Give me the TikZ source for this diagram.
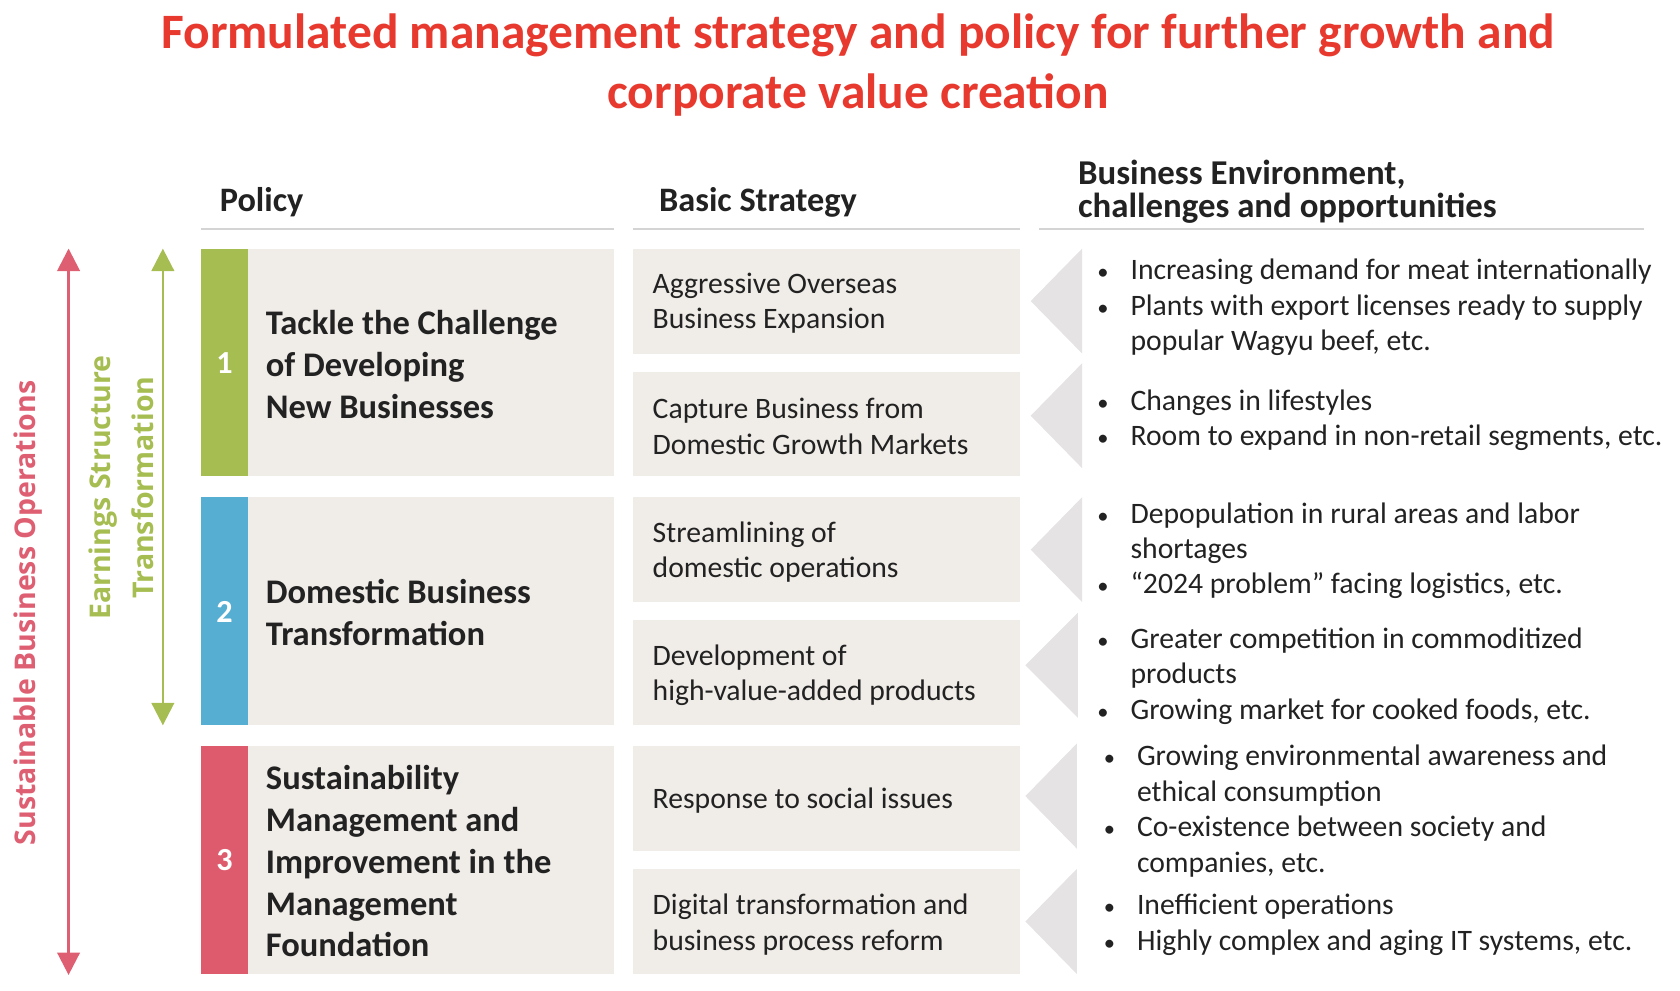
\documentclass[tikz,border=0pt]{standalone}
\usepackage{fontspec}
\setmainfont{Carlito}
\newfontfamily\vfont{Open Sans}
\usetikzlibrary{arrows.meta}
\definecolor{titlered}{HTML}{E8392F}
\definecolor{boxbg}{HTML}{F0ECE8}
\definecolor{trigray}{HTML}{E5E3E4}
\definecolor{greenA}{HTML}{A6BD52}
\definecolor{blueA}{HTML}{57AED3}
\definecolor{pinkA}{HTML}{DE5B6E}
\definecolor{arrowred}{HTML}{DF5F72}
\definecolor{txt}{HTML}{222222}
\definecolor{hline}{HTML}{D4D4D4}
\newcommand{\bul}{\makebox[31pt][l]{\fontsize{21}{21}\selectfont •}}
\newcommand{\ind}{\hspace*{31pt}}
\begin{document}
\begin{tikzpicture}[x=1pt,y=-1pt,
  title/.style={font=\fontsize{46.2}{56}\selectfont\bfseries, text=titlered, align=center, inner sep=0},
  head/.style={font=\fontsize{32}{30}\selectfont\bfseries, text=txt, align=left, inner sep=0, anchor=west},
  hrule/.style={draw=hline, line width=1.6pt},
  ptext/.style={font=\fontsize{32.2}{39}\selectfont\bfseries, text=txt, align=left, inner sep=0, anchor=west},
  numtext/.style={font=\fontsize{30}{36}\selectfont\bfseries, text=white, inner sep=0},
  stext/.style={font=\fontsize{27.7}{33}\selectfont, text=txt, align=left, inner sep=0, anchor=west},
  etext/.style={font=\fontsize{27.7}{33}\selectfont, text=txt, align=left, inner sep=0, anchor=west},
  vtext/.style={font={\vfont\bfseries\fontsize{26.6}{40}\selectfont}, align=center, inner sep=0},
  bigarrow/.style={line width=2.5pt, {Triangle[width=21pt,length=21pt]}-{Triangle[width=21pt,length=21pt]}}
]
\useasboundingbox (0,0) rectangle (1568,924);

% title
\node[title] (title) at (801,61) {Formulated management strategy and policy for further growth and\\corporate value creation};

% headers
\node[head] (hpol) at (205,189) {Policy};
\node[head] (hstr) at (615,189) {Basic Strategy};
\node[head, font=\fontsize{32.5}{30}\selectfont\bfseries] (henv) at (1006,179) {Business Environment,\\challenges and opportunities};
\draw[hrule] (188,214) -- (573,214);
\draw[hrule] (591,214) -- (952,214);
\draw[hrule] (970,214) -- (1534,214);

% policy boxes
\fill[boxbg] (188,232) rectangle (573,444);
\fill[greenA] (188,232) rectangle (231,444);
\fill[boxbg] (188,464) rectangle (573,677);
\fill[blueA] (188,464) rectangle (231,677);
\fill[boxbg] (188,696) rectangle (573,909);
\fill[pinkA] (188,696) rectangle (231,909);

\node[numtext] (n1) at (209.5,339) {1};
\node[numtext] (n2) at (209.5,571) {2};
\node[numtext] (n3) at (209.5,803) {3};

\node[ptext] (p1) at (248,340) {Tackle the Challenge\\of Developing\\New Businesses};
\node[ptext] (p2) at (248,572) {Domestic Business\\Transformation};
\node[ptext] (p3) at (248,804) {Sustainability\\Management and\\Improvement in the\\Management\\Foundation};

% strategy boxes
\fill[boxbg] (591,232) rectangle (952,330);
\fill[boxbg] (591,347) rectangle (952,444);
\fill[boxbg] (591,464) rectangle (952,562);
\fill[boxbg] (591,579) rectangle (952,677);
\fill[boxbg] (591,696) rectangle (952,794);
\fill[boxbg] (591,811) rectangle (952,909);

\node[stext] (s1) at (609,283) {Aggressive Overseas\\Business Expansion};
\node[stext] (s2) at (609,398) {Capture Business from\\Domestic Growth Markets};
\node[stext] (s3) at (609,515) {Streamlining of\\domestic operations};
\node[stext] (s4) at (609,630) {Development of\\high-value-added products};
\node[stext] (s5) at (609,747) {Response to social issues};
\node[stext] (s6) at (609,863) {Digital transformation and\\business process reform};

% triangles
\fill[trigray] (1010,232) -- (1010,330) -- (962,281) -- cycle;
\fill[trigray] (1010,339) -- (1010,437) -- (962,388) -- cycle;
\fill[trigray] (1010,464) -- (1010,562) -- (962,513) -- cycle;
\fill[trigray] (1006,572) -- (1006,670) -- (957,621) -- cycle;
\fill[trigray] (1005,694) -- (1005,792) -- (957,743) -- cycle;
\fill[trigray] (1005,811) -- (1005,909) -- (957,860) -- cycle;

% environment texts
\node[etext] (e1) at (1024,287) {\bul Increasing demand for meat internationally\\\bul Plants with export licenses ready to supply\\\ind popular Wagyu beef, etc.};
\node[etext] (e2) at (1024,392) {\bul Changes in lifestyles\\\bul Room to expand in non-retail segments, etc.};
\node[etext] (e3) at (1024,514) {\bul Depopulation in rural areas and labor\\\ind shortages\\\bul “2024 problem” facing logistics, etc.};
\node[etext] (e4) at (1024,631) {\bul Greater competition in commoditized\\\ind products\\\bul Growing market for cooked foods, etc.};
\node[etext] (e5) at (1030,757) {\bul Growing environmental awareness and\\\ind ethical consumption\\\bul Co-existence between society and\\\ind companies, etc.};
\node[etext] (e6) at (1030,863) {\bul Inefficient operations\\\bul Highly complex and aging IT systems, etc.};

% left arrows
\coordinate (rtop) at (64,232);
\coordinate (rbot) at (64,910);
\coordinate (gtop) at (152,232);
\coordinate (gbot) at (152,677);
\draw[bigarrow, draw=arrowred, fill=arrowred] (rtop) -- (rbot);
\draw[bigarrow, draw=greenA, fill=greenA] (gtop) -- (gbot);

\node[vtext, text=arrowred, rotate=90] (sbo) at (26,572) {Sustainable Business Operations};
\node[vtext, text=greenA, rotate=90] (est) at (113,455) {Earnings Structure\\Transformation};
\end{tikzpicture}
\end{document}
